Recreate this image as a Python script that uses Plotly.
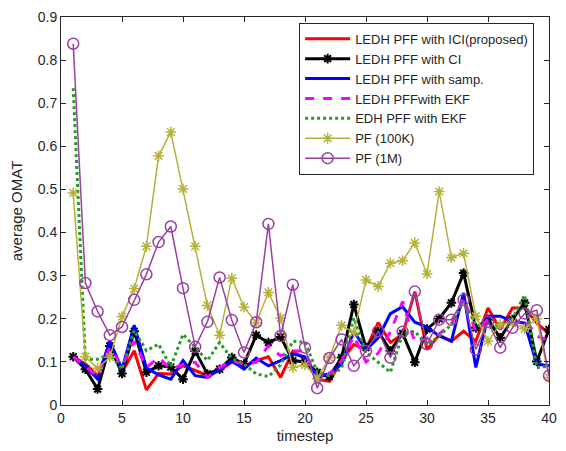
import plotly.graph_objects as go

# time steps
timestep = list(range(1, 41))

# average OMAT per method
ledh_ici = [0.112, 0.095, 0.068, 0.145, 0.076, 0.126, 0.035, 0.073, 0.072, 0.091,
            0.080, 0.068, 0.080, 0.099, 0.091, 0.103, 0.112, 0.064, 0.125, 0.106,
            0.060, 0.055, 0.103, 0.140, 0.130, 0.191, 0.145, 0.164, 0.263, 0.129,
            0.162, 0.148, 0.171, 0.148, 0.225, 0.175, 0.225, 0.225, 0.190, 0.165]
ledh_ci = [0.112, 0.083, 0.037, 0.137, 0.073, 0.171, 0.076, 0.091, 0.088, 0.060,
           0.125, 0.072, 0.083, 0.110, 0.095, 0.162, 0.145, 0.158, 0.103, 0.100,
           0.076, 0.066, 0.110, 0.233, 0.133, 0.170, 0.126, 0.166, 0.099, 0.176,
           0.200, 0.237, 0.306, 0.179, 0.198, 0.156, 0.198, 0.237, 0.101, 0.175]
ledh_samp = [0.112, 0.090, 0.060, 0.148, 0.083, 0.185, 0.086, 0.070, 0.060, 0.103,
             0.068, 0.064, 0.083, 0.102, 0.083, 0.109, 0.091, 0.103, 0.118, 0.112,
             0.064, 0.072, 0.095, 0.171, 0.128, 0.156, 0.212, 0.228, 0.192, 0.181,
             0.160, 0.148, 0.260, 0.087, 0.206, 0.206, 0.194, 0.190, 0.095, 0.091]
ledh_ekf = [0.112, 0.090, 0.065, 0.133, 0.090, 0.148, 0.087, 0.110, 0.083, 0.094,
            0.099, 0.064, 0.087, 0.102, 0.095, 0.099, 0.137, 0.114, 0.125, 0.125,
            0.057, 0.072, 0.103, 0.160, 0.100, 0.120, 0.170, 0.240, 0.145, 0.155,
            0.165, 0.187, 0.248, 0.171, 0.198, 0.179, 0.185, 0.200, 0.160, 0.150]
edh_ekf = [0.735, 0.106, 0.106, 0.118, 0.083, 0.173, 0.126, 0.141, 0.089, 0.164,
           0.134, 0.103, 0.145, 0.108, 0.095, 0.072, 0.066, 0.093, 0.148, 0.146,
           0.076, 0.068, 0.085, 0.202, 0.122, 0.100, 0.076, 0.165, 0.171, 0.140,
           0.160, 0.187, 0.240, 0.185, 0.180, 0.180, 0.200, 0.255, 0.087, 0.090]
pf_100k = [0.492, 0.112, 0.085, 0.111, 0.205, 0.270, 0.368, 0.578, 0.633, 0.501,
           0.368, 0.231, 0.162, 0.294, 0.227, 0.191, 0.261, 0.202, 0.087, 0.093,
           0.061, 0.110, 0.185, 0.168, 0.290, 0.275, 0.329, 0.335, 0.376, 0.304,
           0.495, 0.342, 0.352, 0.206, 0.148, 0.187, 0.190, 0.177, 0.200, 0.064]
pf_1m = [0.838, 0.283, 0.217, 0.162, 0.181, 0.244, 0.303, 0.378, 0.414, 0.271,
         0.135, 0.193, 0.296, 0.197, 0.122, 0.192, 0.420, 0.160, 0.279, 0.133,
         0.039, 0.109, 0.152, 0.091, 0.125, 0.171, 0.110, 0.170, 0.263, 0.141,
         0.198, 0.198, 0.244, 0.129, 0.193, 0.133, 0.179, 0.212, 0.220, 0.068]

x_ticks = [0, 5, 10, 15, 20, 25, 30, 35, 40]
y_ticks = [0, 0.1, 0.2, 0.3, 0.4, 0.5, 0.6, 0.7, 0.8, 0.9]
y_tick_text = ["0", "0.1", "0.2", "0.3", "0.4", "0.5", "0.6", "0.7", "0.8", "0.9"]

FONT = "Liberation Sans, Arial"
INK = "#262626"

fig = go.Figure()

fig.add_trace(go.Scatter(x=timestep, y=ledh_ici, mode="lines",
                         name="LEDH PFF with ICI(proposed)",
                         line=dict(color="#FF0000", width=3)))
fig.add_trace(go.Scatter(x=timestep, y=ledh_ci, mode="lines+markers",
                         name="LEDH PFF with CI",
                         line=dict(color="#000000", width=3),
                         marker=dict(symbol="asterisk-open", size=8,
                                     line=dict(color="#000000", width=2))))
fig.add_trace(go.Scatter(x=timestep, y=ledh_samp, mode="lines",
                         name="LEDH PFF with samp.",
                         line=dict(color="#0000FF", width=3)))
fig.add_trace(go.Scatter(x=timestep, y=ledh_ekf, mode="lines",
                         name="LEDH PFFwith EKF",
                         line=dict(color="#FF00FF", width=3, dash="dash")))
fig.add_trace(go.Scatter(x=timestep, y=edh_ekf, mode="lines",
                         name="EDH PFF with EKF",
                         line=dict(color="#2A9A2A", width=3, dash="dot")))
fig.add_trace(go.Scatter(x=timestep, y=pf_100k, mode="lines+markers",
                         name="PF (100K)",
                         line=dict(color="#B5B23A", width=1.5),
                         marker=dict(symbol="asterisk-open", size=9,
                                     line=dict(color="#B5B23A", width=1.5))))
fig.add_trace(go.Scatter(x=timestep, y=pf_1m, mode="lines+markers",
                         name="PF (1M)",
                         line=dict(color="#9B3FA3", width=1.5),
                         marker=dict(symbol="circle-open", size=11,
                                     line=dict(color="#9B3FA3", width=1.5))))

axis_common = dict(
    showline=True, linecolor=INK, linewidth=1, mirror="ticks",
    ticks="inside", ticklen=5, tickcolor=INK, showgrid=False,
    zeroline=False, tickfont=dict(family=FONT, size=14, color=INK),
)

fig.update_xaxes(range=[0, 40], tickvals=x_ticks,
                 title=dict(text="timestep", standoff=5,
                            font=dict(family=FONT, size=15, color=INK)),
                 **axis_common)
fig.update_yaxes(range=[0, 0.9], tickvals=y_ticks, ticktext=y_tick_text,
                 title=dict(text="average OMAT", standoff=11,
                            font=dict(family=FONT, size=15, color=INK)),
                 **axis_common)

fig.update_layout(
    width=566, height=451,
    margin=dict(l=61, r=9, t=13, b=46),
    paper_bgcolor="white", plot_bgcolor="white",
    legend=dict(x=0.488, y=0.985, xanchor="left", yanchor="top",
                bgcolor="white", bordercolor=INK, borderwidth=1,
                font=dict(family=FONT, size=13, color=INK),
                tracegroupgap=0, itemwidth=45),
    showlegend=True,
)

fig.write_html("out.html")
